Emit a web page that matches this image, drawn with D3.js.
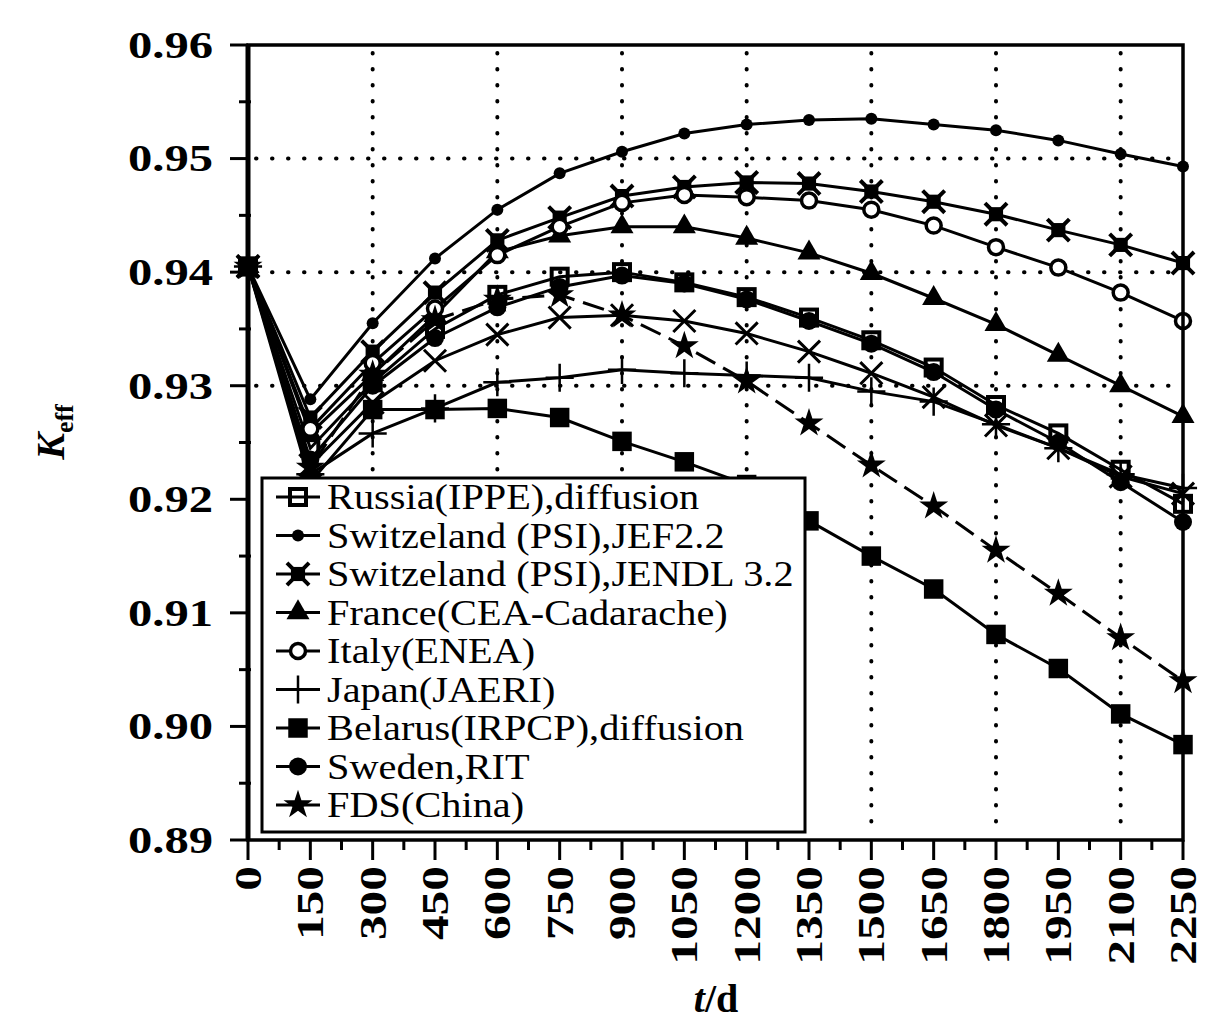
<!DOCTYPE html>
<html>
<head>
    <script src="https://d3js.org/d3.v7.min.js"></script>
    <style>
        body { margin: 0; background: #fff; }
        .curve { fill: none; stroke: #000; stroke-width: 3px; }
        .grid { fill: none; stroke: #000; stroke-width: 4px; stroke-linecap: round; stroke-dasharray: 0.5,15.5; }
        .tick-label { font-family: "Liberation Serif", "Times New Roman", serif; font-weight: bold; font-size: 38px; }
        .legend text { font-family: "Liberation Serif", "Times New Roman", serif; font-size: 36px; }
        .axis-title { font-family: "Liberation Serif", "Times New Roman", serif; font-weight: bold; font-size: 40px; }
    </style>
</head>
<body>
    <svg width="1208" height="1025"></svg>
    <script>
        var days = [0, 150, 300, 450, 600, 750, 900, 1050, 1200, 1350, 1500, 1650, 1800, 1950, 2100, 2250];
        var yTicks = [0.89, 0.90, 0.91, 0.92, 0.93, 0.94, 0.95, 0.96];

        var russia  = [0.9405, 0.9245, 0.9303, 0.9350, 0.9380, 0.9396, 0.9400, 0.9391, 0.9378, 0.9360, 0.9340, 0.9316, 0.9283, 0.9258, 0.9226, 0.9196];
        var jef22   = [0.9405, 0.9288, 0.9355, 0.9412, 0.9455, 0.9487, 0.9506, 0.9522, 0.9530, 0.9534, 0.9535, 0.9530, 0.9525, 0.9516, 0.9504, 0.9493];
        var jendl32 = [0.9405, 0.9272, 0.9330, 0.9382, 0.9428, 0.9448, 0.9467, 0.9475, 0.9479, 0.9478, 0.9471, 0.9462, 0.9451, 0.9437, 0.9424, 0.9408];
        var france  = [0.9405, 0.9258, 0.9310, 0.9362, 0.9418, 0.9432, 0.9440, 0.9440, 0.9430, 0.9417, 0.9399, 0.9377, 0.9354, 0.9327, 0.9300, 0.9273];
        var italy   = [0.9405, 0.9262, 0.9320, 0.9368, 0.9415, 0.9440, 0.9461, 0.9468, 0.9466, 0.9463, 0.9455, 0.9441, 0.9422, 0.9404, 0.9382, 0.9357];
        var japan   = [0.9405, 0.9222, 0.9258, 0.9280, 0.9303, 0.9307, 0.9314, 0.9311, 0.9309, 0.9307, 0.9295, 0.9286, 0.9266, 0.9245, 0.9222, 0.9210];
        var belarus = [0.9405, 0.9215, 0.9279, 0.9279, 0.9280, 0.9272, 0.9251, 0.9233, 0.9213, 0.9181, 0.9150, 0.9121, 0.9081, 0.9051, 0.9011, 0.8984];
        var sweden  = [0.9405, 0.9235, 0.9300, 0.9342, 0.9369, 0.9387, 0.9397, 0.9390, 0.9376, 0.9357, 0.9337, 0.9312, 0.9279, 0.9250, 0.9215, 0.9180];
        var fds     = [0.9405, 0.9228, 0.9310, 0.9358, 0.9376, 0.9380, 0.9362, 0.9335, 0.9304, 0.9267, 0.9230, 0.9194, 0.9155, 0.9117, 0.9078, 0.9040];
        // curve drawn with x markers, no legend entry in the original
        var crosses = [0.9405, 0.9230, 0.9285, 0.9322, 0.9345, 0.9360, 0.9362, 0.9357, 0.9346, 0.9330, 0.9311, 0.9290, 0.9265, 0.9245, 0.9220, 0.9205];

        var series = [
            { name: "Russia(IPPE),diffusion", values: russia, mark: "opensquare" },
            { name: "Switzeland (PSI),JEF2.2", values: jef22, mark: "smalldot" },
            { name: "Switzeland (PSI),JENDL 3.2", values: jendl32, mark: "asterisk" },
            { name: " France(CEA-Cadarache)", values: france, mark: "triangle" },
            { name: "Italy(ENEA)", values: italy, mark: "opencircle" },
            { name: "Japan(JAERI)", values: japan, mark: "plus" },
            { name: "Belarus(IRPCP),diffusion", values: belarus, mark: "square" },
            { name: " Sweden,RIT", values: sweden, mark: "dot" },
            { name: "FDS(China)", values: fds, mark: "star", dash: "22,9" },
            { name: null, values: crosses, mark: "times" }
        ];

        var svg = d3.select("svg"),
            plotLeft = 248, plotRight = 1183, plotTop = 45, plotBottom = 840;

        var x = d3.scaleLinear().domain([0, 2250]).range([plotLeft, plotRight]);
        var y = d3.scaleLinear().domain([0.89, 0.96]).range([plotBottom, plotTop]);

        // dotted grid
        var grid = svg.append("g");
        [300, 600, 900, 1200, 1500, 1800, 2100].forEach(function(d) {
            grid.append("line").attr("class", "grid")
                .attr("x1", x(d)).attr("x2", x(d)).attr("y1", plotTop + 8).attr("y2", plotBottom - 8);
        });
        [0.95, 0.94, 0.93].forEach(function(d) {
            grid.append("line").attr("class", "grid")
                .attr("x1", plotLeft + 8).attr("x2", plotRight - 6).attr("y1", y(d)).attr("y2", y(d));
        });

        function drawMark(sel, mark, cx, cy) {
            var g = sel.append("g").attr("transform", "translate(" + cx + "," + cy + ")");
            if (mark === "opensquare") {
                g.append("rect").attr("x", -8).attr("y", -8).attr("width", 16).attr("height", 16)
                    .attr("fill", "none").attr("stroke", "#000").attr("stroke-width", 4);
            } else if (mark === "square") {
                g.append("path").attr("d", d3.symbol().type(d3.symbolSquare).size(380)()).attr("fill", "#000");
            } else if (mark === "smalldot") {
                g.append("circle").attr("r", 6).attr("fill", "#000");
            } else if (mark === "dot") {
                g.append("circle").attr("r", 9).attr("fill", "#000");
            } else if (mark === "opencircle") {
                g.append("circle").attr("r", 7.5).attr("fill", "#fff").attr("stroke", "#000").attr("stroke-width", 3.5);
            } else if (mark === "triangle") {
                g.append("path").attr("d", d3.symbol().type(d3.symbolTriangle).size(230)()).attr("fill", "#000");
            } else if (mark === "asterisk") {
                g.append("path").attr("d", d3.symbol().type(d3.symbolSquare).size(200)()).attr("fill", "#000");
                g.append("path").attr("d", d3.symbol().type(d3.symbolTimes).size(320)())
                    .attr("fill", "none").attr("stroke", "#000").attr("stroke-width", 4);
            } else if (mark === "plus") {
                g.append("path").attr("d", d3.symbol().type(d3.symbolPlus).size(260)())
                    .attr("fill", "none").attr("stroke", "#000").attr("stroke-width", 2.5);
            } else if (mark === "times") {
                g.append("path").attr("d", d3.symbol().type(d3.symbolTimes).size(320)())
                    .attr("fill", "none").attr("stroke", "#000").attr("stroke-width", 3);
            } else if (mark === "star") {
                g.append("path").attr("d", d3.symbol().type(d3.symbolStar).size(260)()).attr("fill", "#000");
            }
        }

        var line = d3.line()
            .x(function(d, i) { return x(days[i]); })
            .y(function(d) { return y(d); });

        var plot = svg.append("g");
        series.forEach(function(s) {
            plot.append("path").attr("class", "curve")
                .attr("d", line(s.values))
                .attr("stroke-dasharray", s.dash || null);
        });
        series.forEach(function(s) {
            s.values.forEach(function(v, i) {
                drawMark(plot, s.mark, x(days[i]), y(v));
            });
        });

        // frame
        svg.append("rect")
            .attr("x", plotLeft).attr("y", plotTop)
            .attr("width", plotRight - plotLeft).attr("height", plotBottom - plotTop)
            .attr("fill", "none").attr("stroke", "#000").attr("stroke-width", 3.5);
        svg.append("line")
            .attr("x1", plotLeft).attr("x2", plotLeft).attr("y1", plotTop).attr("y2", plotBottom)
            .attr("stroke", "#000").attr("stroke-width", 5);

        // y ticks
        var yAxis = svg.append("g");
        d3.range(0, 15).forEach(function(i) {
            var v = 0.89 + i * 0.005, major = i % 2 === 0;
            yAxis.append("line")
                .attr("x1", plotLeft - (major ? 18 : 9)).attr("x2", plotLeft + (major ? 0 : 3))
                .attr("y1", y(v)).attr("y2", y(v))
                .attr("stroke", "#000").attr("stroke-width", 3);
        });
        yTicks.forEach(function(v) {
            yAxis.append("text").attr("class", "tick-label")
                .attr("transform", "translate(" + (plotLeft - 35) + "," + y(v) + ") scale(1.28,1)")
                .attr("text-anchor", "end")
                .attr("dy", "0.34em")
                .text(d3.format(".2f")(v));
        });

        // x ticks
        var xAxis = svg.append("g");
        d3.range(0, 2251, 75).forEach(function(v, i) {
            var major = i % 2 === 0;
            xAxis.append("line")
                .attr("x1", x(v)).attr("x2", x(v))
                .attr("y1", plotBottom).attr("y2", plotBottom + (major ? 20 : 10))
                .attr("stroke", "#000").attr("stroke-width", 3);
        });
        days.forEach(function(v) {
            xAxis.append("text").attr("class", "tick-label")
                .attr("transform", "translate(" + x(v) + "," + (plotBottom + 26) + ") rotate(-90) scale(1.3,1)")
                .attr("text-anchor", "end")
                .attr("dy", "0.34em")
                .text(v);
        });

        // axis titles
        var xt = svg.append("text").attr("class", "axis-title")
            .attr("x", 716).attr("y", 1012).attr("text-anchor", "middle");
        xt.append("tspan").attr("font-style", "italic").text("t");
        xt.append("tspan").text("/d");

        var yt = svg.append("text").attr("class", "axis-title")
            .attr("transform", "translate(64,432) rotate(-90)")
            .attr("text-anchor", "middle");
        yt.append("tspan").attr("font-style", "italic").text("K");
        yt.append("tspan").attr("font-size", "26px").attr("dy", "9").text("eff");

        // legend
        var legend = svg.append("g").attr("class", "legend");
        legend.append("rect")
            .attr("x", 262).attr("y", 478).attr("width", 543).attr("height", 354)
            .attr("fill", "#fff").attr("stroke", "#000").attr("stroke-width", 3);
        series.filter(function(s) { return s.name; }).forEach(function(s, i) {
            var cy = 497 + i * 38.5;
            legend.append("line")
                .attr("x1", 276).attr("x2", 320).attr("y1", cy).attr("y2", cy)
                .attr("stroke", "#000").attr("stroke-width", 3);
            drawMark(legend, s.mark, 298, cy);
            legend.append("text")
                .attr("transform", "translate(327," + (cy + 12) + ") scale(1.12,1)")
                .text(s.name);
        });
    </script>
</body>
</html>
